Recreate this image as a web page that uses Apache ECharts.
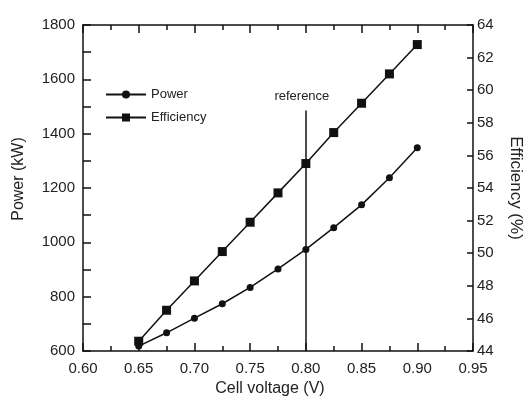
<!DOCTYPE html>
<html><head><meta charset="utf-8">
<script src="https://cdn.jsdelivr.net/npm/echarts@6/dist/echarts.min.js"></script>
<style>html,body{margin:0;padding:0;background:#fff}#c{width:526px;height:401px}</style>
</head><body><div id="c"></div>
<script>
const voltage = [0.65, 0.675, 0.70, 0.725, 0.75, 0.775, 0.80, 0.825, 0.85, 0.875, 0.90];
const power = [618, 667, 721, 774, 834, 902, 974, 1054, 1138, 1238, 1348];
const efficiency = [44.6, 46.5, 48.3, 50.1, 51.9, 53.7, 55.5, 57.4, 59.2, 61.0, 62.8];
const referenceVoltage = 0.80;
const referenceTop = 1485;
const referenceLabel = 'reference';

const FONT = '"Liberation Sans", Arial, sans-serif';
const chart = echarts.init(document.getElementById('c'), null, {renderer: 'canvas'});
const tickStyle = {color: '#111', width: 1.5};
const axisLine = {show: true, lineStyle: {color: '#111', width: 1.5}};
const label = {color: '#222', fontSize: 15, fontFamily: FONT};
const titleStyle = {fontSize: 16, fontFamily: FONT, color: '#222'};

chart.setOption({
  animation: false,
  grid: {left: 83, right: 53, top: 25, bottom: 50, containLabel: false, outerBoundsMode: 'none'},
  legend: {
    orient: 'vertical', left: 105, top: 88, padding: 0, itemWidth: 40, itemHeight: 10, itemGap: 10,
    textStyle: {fontSize: 13, fontFamily: FONT, color: '#222'},
    data: ['Power', 'Efficiency']
  },
  xAxis: [{
    type: 'value', min: 0.60, max: 0.95, interval: 0.05,
    name: 'Cell voltage (V)', nameLocation: 'middle', nameGap: 22,
    nameTextStyle: Object.assign({padding: [0, 16, 0, 0]}, titleStyle),
    axisLine: axisLine,
    axisTick: {inside: true, length: 8, lineStyle: tickStyle},
    minorTick: {show: true, splitNumber: 2, length: 5, lineStyle: tickStyle},
    splitLine: {show: false},
    axisLabel: Object.assign({formatter: v => v.toFixed(2), margin: 10}, label)
  }, {
    type: 'value', position: 'top', min: 0.60, max: 0.95, interval: 0.05,
    axisLine: axisLine,
    axisTick: {inside: true, length: 8, lineStyle: tickStyle},
    minorTick: {show: true, splitNumber: 2, length: 5, lineStyle: tickStyle},
    splitLine: {show: false}, axisLabel: {show: false}
  }],
  yAxis: [{
    type: 'value', min: 600, max: 1800, interval: 200,
    name: 'Power (kW)', nameLocation: 'middle', nameGap: 56,
    nameTextStyle: Object.assign({padding: [0, 0, 0, 18]}, titleStyle),
    axisLine: axisLine,
    axisTick: {inside: true, length: 8, lineStyle: tickStyle},
    minorTick: {show: true, splitNumber: 2, length: 8, lineStyle: tickStyle},
    splitLine: {show: false},
    axisLabel: Object.assign({margin: 8, formatter: v => String(v)}, label)
  }, {
    type: 'value', min: 44, max: 64, interval: 2, position: 'right',
    name: 'Efficiency (%)', nameLocation: 'middle', nameGap: 34, nameRotate: -90,
    nameTextStyle: {fontSize: 17, fontFamily: FONT, color: '#222'},
    axisLine: axisLine,
    axisTick: {inside: true, length: 6, lineStyle: tickStyle},
    splitLine: {show: false},
    axisLabel: Object.assign({margin: 4}, label)
  }],
  series: [{
    name: 'Power', type: 'line', yAxisIndex: 0,
    data: voltage.map((v, i) => [v, power[i]]),
    symbol: 'circle', symbolSize: 7,
    lineStyle: {color: '#111', width: 1.5}, itemStyle: {color: '#111'},
    markLine: {
      silent: true, symbol: 'none',
      lineStyle: {color: '#111', width: 1.5, type: 'solid'},
      label: {show: true, position: 'end', formatter: referenceLabel, fontSize: 13, fontFamily: FONT, color: '#222', distance: 8, padding: [0, 8, 0, 0]},
      data: [[{coord: [referenceVoltage, 600]}, {coord: [referenceVoltage, referenceTop]}]]
    }
  }, {
    name: 'Efficiency', type: 'line', yAxisIndex: 1,
    data: voltage.map((v, i) => [v, efficiency[i]]),
    symbol: 'rect', symbolSize: 9,
    lineStyle: {color: '#111', width: 1.5}, itemStyle: {color: '#111'}
  }]
});
</script>
</body></html>
